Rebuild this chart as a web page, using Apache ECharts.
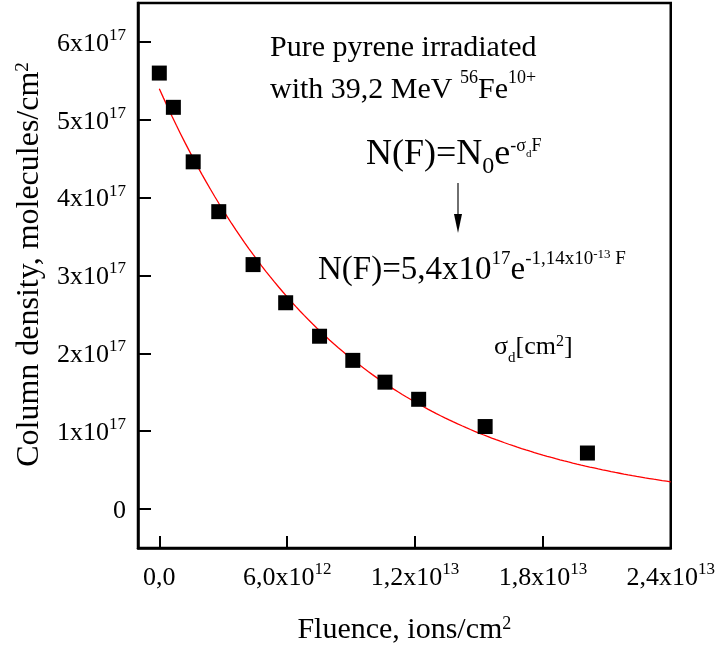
<!DOCTYPE html>
<html>
<head>
<meta charset="utf-8">
<script src="https://cdn.jsdelivr.net/npm/echarts@6/dist/echarts.min.js"></script>
<style>
  html, body { margin: 0; padding: 0; background: #fff; }
  #chart { width: 718px; height: 653px; }
</style>
</head>
<body>
<div id="chart"></div>
<script>
// Measured column density of pyrene versus ion fluence
const fluence = [0, 0.66e12, 1.59e12, 2.79e12, 4.40e12, 5.93e12, 7.52e12, 9.08e12, 10.59e12, 12.17e12, 15.29e12, 20.09e12];
const columnDensity = [5.60e17, 5.16e17, 4.46e17, 3.82e17, 3.14e17, 2.65e17, 2.22e17, 1.91e17, 1.63e17, 1.41e17, 1.06e17, 0.72e17];

// Exponential fit parameters N(F) = N0 * exp(-sigma_d * F)
const fitN0 = 5.4e17;
const fitSigma = 1.14e-13;
const fitRange = [0, 2.4e13];

// Axis ticks and their labels ("^" marks a superscript)
const xTicks = [0, 6e12, 1.2e13, 1.8e13, 2.4e13];
const xTickLabels = ['0,0', '6,0x10^12', '1,2x10^13', '1,8x10^13', '2,4x10^13'];
const yTicks = [0, 1e17, 2e17, 3e17, 4e17, 5e17, 6e17];
const yTickLabels = ['0', '1x10^17', '2x10^17', '3x10^17', '4x10^17', '5x10^17', '6x10^17'];

const FONT = "'Liberation Serif', 'Times New Roman', serif";

function richLabel(s) {
  const i = s.indexOf('^');
  if (i < 0) return '{m|' + s + '}';
  return '{m|' + s.slice(0, i) + '}{s|' + s.slice(i + 1) + '}';
}
function tickLabel(ticks, labels) {
  return function (v) {
    for (let i = 0; i < ticks.length; i++) {
      if (Math.abs(v - ticks[i]) <= Math.abs(ticks[1] - ticks[0]) * 1e-6) return richLabel(labels[i]);
    }
    return '';
  };
}

const tickRich = {
  m: { fontFamily: FONT, fontSize: 26, color: '#000', lineHeight: 30, verticalAlign: 'bottom' },
  s: { fontFamily: FONT, fontSize: 17, color: '#000', lineHeight: 16, verticalAlign: 'top', padding: [0, 0, 20, 0] }
};

// Fitted curve sampled along the fluence range
const fitCurve = [];
const nSamples = 120;
for (let k = 0; k <= nSamples; k++) {
  const f = fitRange[0] + (fitRange[1] - fitRange[0]) * k / nSamples;
  fitCurve.push([f, fitN0 * Math.exp(-fitSigma * f)]);
}

const chart = echarts.init(document.getElementById('chart'), null, { renderer: 'canvas' });

const txt = { fontFamily: FONT, fill: '#000' };

chart.setOption({
  animation: false,
  backgroundColor: '#fff',
  grid: {
    left: 138, right: 46, top: 3, bottom: 105,
    containLabel: false,
    show: true, borderColor: '#000', borderWidth: 2.5, backgroundColor: 'transparent'
  },
  xAxis: {
    type: 'value',
    min: -1e12, max: 2.4e13,
    axisLine: { show: true, onZero: false, lineStyle: { color: '#000', width: 2.5 } },
    axisTick: { show: true, inside: true, length: 12, customValues: xTicks, lineStyle: { color: '#000', width: 2 } },
    axisLabel: {
      show: true, customValues: xTicks, margin: 13,
      formatter: tickLabel(xTicks, xTickLabels), rich: tickRich
    },
    splitLine: { show: false },
    name: 'Fluence, ions/cm{s|2}',
    nameLocation: 'middle',
    nameGap: 67,
    nameTextStyle: {
      fontFamily: FONT, fontSize: 30, color: '#000',
      rich: {
        s: { fontFamily: FONT, fontSize: 18, color: '#000', verticalAlign: 'top', lineHeight: 18 }
      }
    }
  },
  yAxis: {
    type: 'value',
    min: -0.5e17, max: 6.5e17,
    axisLine: { show: true, onZero: false, lineStyle: { color: '#000', width: 2.5 } },
    axisTick: { show: true, inside: true, length: 13, customValues: yTicks, lineStyle: { color: '#000', width: 2 } },
    axisLabel: {
      show: true, customValues: yTicks, margin: 12,
      formatter: tickLabel(yTicks, yTickLabels), rich: tickRich
    },
    splitLine: { show: false },
    name: 'Column density, molecules/cm{s|2}',
    nameLocation: 'middle',
    nameGap: 92,
    nameRotate: 90,
    nameTextStyle: {
      fontFamily: FONT, fontSize: 32, color: '#000',
      padding: [0, 0, 0, 22],
      rich: {
        s: { fontFamily: FONT, fontSize: 19, color: '#000', verticalAlign: 'top', lineHeight: 19 }
      }
    }
  },
  series: [
    {
      name: 'fit',
      type: 'line',
      data: fitCurve,
      showSymbol: false,
      symbol: 'none',
      lineStyle: { color: '#ff0000', width: 1.3 },
      z: 2
    },
    {
      name: 'data',
      type: 'scatter',
      data: fluence.map((f, i) => [f, columnDensity[i]]),
      symbol: 'rect',
      symbolSize: 15,
      itemStyle: { color: '#000', opacity: 1 },
      z: 3
    }
  ],
  graphic: [
    {
      type: 'text', left: 270, top: 33,
      style: Object.assign({ text: 'Pure pyrene irradiated', fontSize: 30 }, txt)
    },
    {
      type: 'text', left: 270, top: 69,
      style: Object.assign({
        text: '{m|with 39,2 MeV }{s|56}{m|Fe}{s|10+}',
        rich: {
          m: { fontFamily: FONT, fontSize: 30, fill: '#000', lineHeight: 36, verticalAlign: 'bottom' },
          s: { fontFamily: FONT, fontSize: 18, fill: '#000', lineHeight: 18, verticalAlign: 'top' }
        }
      }, txt)
    },
    {
      type: 'text', left: 366, top: 137,
      style: Object.assign({
        text: '{m|N(F)=N}{b|0}{m|e}{s|-σ}{d|d}{s|F}',
        rich: {
          m: { fontFamily: FONT, fontSize: 36, fill: '#000', lineHeight: 42, verticalAlign: 'top' },
          b: { fontFamily: FONT, fontSize: 24, fill: '#000', lineHeight: 24, verticalAlign: 'bottom' },
          s: { fontFamily: FONT, fontSize: 18, fill: '#000', lineHeight: 18, verticalAlign: 'top' },
          d: { fontFamily: FONT, fontSize: 11, fill: '#000', lineHeight: 11, verticalAlign: 'top', padding: [12, 0, 0, 0] }
        }
      }, txt)
    },
    {
      type: 'line',
      shape: { x1: 458, y1: 183, x2: 458, y2: 218 },
      style: { stroke: '#222', lineWidth: 1.3 }
    },
    {
      type: 'polygon',
      shape: { points: [[454, 214], [462, 214], [458, 233]] },
      style: { fill: '#000' }
    },
    {
      type: 'text', left: 318, top: 248,
      style: Object.assign({
        text: '{m|N(F)=5,4x10}{s|17}{m|e}{s|-1,14x10}{t|-13}{s| F}',
        rich: {
          m: { fontFamily: FONT, fontSize: 33, fill: '#000', lineHeight: 39, verticalAlign: 'bottom' },
          s: { fontFamily: FONT, fontSize: 19, fill: '#000', lineHeight: 19, verticalAlign: 'top', padding: [2, 0, 0, 0] },
          t: { fontFamily: FONT, fontSize: 13, fill: '#000', lineHeight: 13, verticalAlign: 'top' }
        }
      }, txt)
    },
    {
      type: 'text', left: 494, top: 334,
      style: Object.assign({
        text: '{m|σ}{d|d}{m|[cm}{s|2}{m|]}',
        rich: {
          m: { fontFamily: FONT, fontSize: 26, fill: '#000', lineHeight: 32, verticalAlign: 'top' },
          d: { fontFamily: FONT, fontSize: 15, fill: '#000', lineHeight: 15, verticalAlign: 'bottom' },
          s: { fontFamily: FONT, fontSize: 16, fill: '#000', lineHeight: 16, verticalAlign: 'top' }
        }
      }, txt)
    }
  ]
});
</script>
</body>
</html>
